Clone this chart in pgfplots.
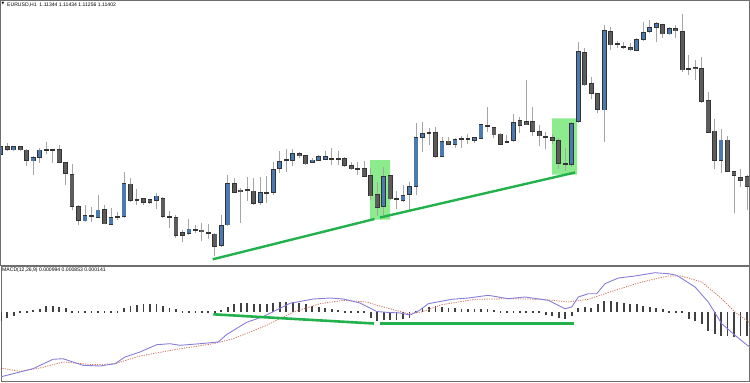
\documentclass[border=0pt]{standalone}
\usepackage{pgfplots}
\pgfplotsset{compat=1.18}
\usepackage{pgfplotstable}
\usepackage{fontspec}
\setmainfont{Liberation Sans}
\newfontfamily\symfont{DejaVu Sans}
\definecolor{bullfill}{RGB}{74,122,176}
\definecolor{bearfill}{RGB}{92,92,92}
\definecolor{outl}{RGB}{52,52,52}
\definecolor{wick}{RGB}{165,165,165}
\definecolor{tlgreen}{RGB}{34,177,76}
\definecolor{boxgreen}{RGB}{140,235,140}
\definecolor{macdline}{RGB}{135,125,215}
\definecolor{sigline}{RGB}{205,120,100}
\definecolor{histc}{RGB}{65,65,65}
\definecolor{frame}{RGB}{110,110,110}

% candles: pixel y values (smaller = higher price)
\pgfplotstableread{
i o h l c
0 154.3 145 156 146.7
2 150 145.7 150.7 146.7
5 161 156.3 175 157.3
6 157.7 148.3 163.3 150
13 221 205 221.7 215.7
15 217 195 217.7 210
17 224.3 208.3 225 217.3
19 216.7 171.7 217.7 183.3
24 200 192.7 209 196
29 233.3 219.3 235 229
34 245.7 215 246.7 225.7
35 225 175 226 183.3
40 202.7 176.7 205 192.7
42 192.7 161.7 195 169.3
43 168.3 150.7 172.7 161.7
45 160.7 149.3 166 153.3
48 162.7 158.3 163.3 160
49 160 155 160.7 156.7
50 159.3 150.7 160 156.7
59 206.7 166.7 215 176.7
62 200.3 185 201.7 195.7
63 194.3 181.7 210 186.7
64 186.7 123.3 195 137.7
65 137.7 121.7 151.7 134
68 156 136.7 156.7 141.7
70 144.3 138.3 148.3 139.3
73 140.7 136.7 143.3 137.7
74 138.3 124.3 139 125
79 140.7 114 141.7 122.7
88 164 121.7 166.7 123.3
89 121.7 41.7 123.3 51.7
93 110 25 141.7 31
98 50.7 38.3 51.3 39.3
99 39.3 21.7 40.7 32.3
100 31.7 20 33.3 27.3
101 27.3 21.7 42.3 24
103 34 26.7 35 28.3
111 160.7 129.3 173.3 140
}\bull

\pgfplotstableread{
i o h l c
1 146.3 143 151 149.7
3 146.3 145.7 151 150
4 150 149.3 166 160.7
7 150 142.3 154.3 150.3
8 150 149.3 163.3 150
9 149.3 145 163 162.7
10 162.7 161.7 185 173
11 174.3 164.3 210 206.7
12 207 205 225 220.7
14 215.7 206.7 221.7 216
16 209.3 205 224.3 224
18 216.7 211.7 220 216.7
20 184 178.3 201.7 200.7
21 200 189.3 205 200
22 198.3 198 205 202.3
23 200 199 203.5 202.3
25 198.3 196.7 218.3 216.7
26 216.7 211 228.3 216.7
27 217.3 215 238.3 235
28 232.3 230 241.7 235
30 230 225 232.7 230
31 230 222.7 240.7 231.7
32 233.3 224 239.3 233.3
33 234 233.3 256 246.7
36 183.3 178.3 192.7 192.3
37 190 188.3 223.3 191
38 190 177.3 201 190.5
39 191 178.3 205 203.3
41 192.7 176 202.7 192.7
44 160 149.3 171.7 160
46 154 151.7 158.3 156
47 156 155 165 164
51 158.7 148.3 165 158.7
52 159.3 150.7 165 159.3
53 158.3 157.3 166.7 165.7
54 166 161.7 170 169
55 169.3 161.7 175 169.3
56 168.3 160.7 176.7 176
57 176 168.3 200 196
58 194.3 182.3 216 207.7
60 175.7 175 200 199
61 199.3 191 209 199.3
66 132.7 128.3 145 132.7
67 132.7 126.7 157.7 156.7
69 141 136.7 145 144.3
71 139.3 136 148.3 139.3
72 139 134.3 144.3 139
75 126 106.7 131.7 126
76 127.7 126.7 137.7 135
77 134 133.3 145 144
78 141.7 135 143.3 141.7
80 121 117.3 133.3 125
81 121.7 80 125 125
82 121.7 106.7 136 131.7
83 131.7 125 146 136
84 136.7 131.7 149.3 136.7
85 137.3 134 144 140.7
86 140.7 138.3 169.3 163.3
87 164 148.3 170.7 164
90 52.3 48.3 86 85
91 83.3 76.7 99.3 93.3
92 93.3 92.7 112.7 109.3
94 31.7 27.3 50 45
95 44.3 41 48 44.3
96 46.7 41.7 49.3 46.7
97 47.7 43.3 50.7 50
102 24.3 24 38.3 34
104 29 25 38.3 31
105 32 14 71.7 70
106 69.3 55 75 69.3
107 67.3 60 80 68.7
108 68.3 57.3 102.7 101.7
109 100.7 91.7 132.7 132.3
110 131 119.3 169.3 160.7
112 140 136 171.7 171
113 171.7 171 212.7 175.7
114 177.3 169.3 186.7 180
115 176.7 175 210 186.7
}\bear

% MACD histogram: pixel y of bar end, zero line at 312
\pgfplotstableread{
i v
0 321
1 318.3
2 316
3 312
4 312
5 310.3
6 309.3
7 306
8 306
9 306.7
10 307.7
11 312
12 312
13 312
14 312
15 312
16 312
17 312
18 312
19 307.7
20 306
21 305
22 304.3
23 303.7
24 304.3
25 306
26 307.7
27 309.3
28 312
29 312
30 312
31 312
32 312
33 312
34 310.3
35 306.7
36 304
37 303.3
38 303.3
39 304.3
40 304.3
41 304.3
42 303.3
43 302.3
44 301.7
45 301.7
46 303.3
47 304.3
48 305.7
49 306.7
50 308.3
51 309
52 310
53 312
54 312
55 312
56 312
57 318.3
58 320.7
59 320
60 320
61 320
62 319
63 318.3
64 312
65 307.7
66 307
67 306
68 307
69 307.7
70 308.3
71 309.3
72 309.3
73 309.3
74 309.3
75 309.3
76 310.3
77 312
78 312
79 312
80 312
81 312
82 312
83 312
84 315
85 316
86 317.7
87 319.3
88 316
89 307.7
90 307
91 307.7
92 304.3
93 301
94 301
95 301.7
96 302.7
97 303.7
98 304.3
99 306
100 307
101 307.7
102 309.3
103 312
104 312
105 312
106 319.3
107 321
108 324.3
109 331
110 334.3
111 336
112 336
113 337
114 336
115 336
}\hist

\pgfplotstableread{
x y
0 377
33 368.7
53 359.3
63 358.7
83 365.3
100 366
115 363.7
125 357
140 352
156.7 344.7
170 343.7
180 345.3
200 343.7
218.3 342
226.7 334.5
246.7 322.3
263.3 316.5
276.7 310
290 303.3
313.3 299
330 298
343.3 299
360 303
376.7 311.5
386.7 312.3
400 313
410 315
420 310
428.3 303.7
451.7 299.3
468.3 298
488.3 295.3
508.3 298.7
525 297
548.3 300.3
565 308.7
571.7 307
578.3 297
588.3 293.7
596.7 293.7
605 283.7
618.3 278
635 276
655 272.7
668.3 273.7
676.7 275.3
695 287
708.3 302
721.7 323.7
735 335.3
747.3 345.3
750 347
}\macd

\pgfplotstableread{
x y
0 368
20 371.3
40 368
63.3 362
93.3 364.7
115 363.7
140 356
176.7 349.3
213.3 343.7
233.3 338.7
266.7 325.3
293.3 312
320 303.7
343.3 300.3
366.7 302
375 304.7
408.3 313.7
421.7 312
441.7 304.7
475 299.3
508.3 298.7
541.7 299.3
568.3 302
588.3 299.3
615 290.3
641.7 282
668.3 276
681.7 276
701.7 282
721.7 298.7
735 312
750 323
}\signal

\pgfplotsset{
  panel/.style={scale only axis, anchor=south west, xmin=1, xmax=749,
    y dir=reverse, ticks=none, axis line style={draw=frame, line width=1pt}},
  wickplot/.style={draw=none, mark=none, forget plot,
    error bars/.cd, y dir=both, y explicit, error mark=none,
    error bar style={draw=wick, line width=1pt}},
  bodyout/.style={draw=none, mark=none, forget plot,
    error bars/.cd, y dir=both, y explicit, error mark=none,
    error bar style={draw=outl, line width=4.8pt}},
  bodyin/.style={draw=none, mark=none, forget plot,
    error bars/.cd, y dir=both, y explicit, error mark=none,
    error bar style={draw=#1, line width=3.3pt}},
}

\begin{document}
\begin{tikzpicture}
\path[use as bounding box] (0pt,0pt) rectangle (750pt,383pt);
\begin{axis}[panel, at={(1pt,118pt)}, width=748pt, height=264pt, ymin=1, ymax=265]
  % highlight boxes
  \addplot[fill=boxgreen, draw=none, forget plot] coordinates {(370,160) (390,160) (390,219.5) (370,219.5) (370,160)};
  \addplot[fill=boxgreen, draw=none, forget plot] coordinates {(552,118.3) (577,118.3) (577,174.5) (552,174.5) (552,118.3)};
  % wicks
  \addplot[wickplot] table[x expr=0.7+6.49*\thisrow{i}, y expr=(\thisrow{h}+\thisrow{l})/2, y error expr=(\thisrow{l}-\thisrow{h})/2] {\bull};
  \addplot[wickplot] table[x expr=0.7+6.49*\thisrow{i}, y expr=(\thisrow{h}+\thisrow{l})/2, y error expr=(\thisrow{l}-\thisrow{h})/2] {\bear};
  % bodies
  \addplot[bodyout] table[x expr=0.7+6.49*\thisrow{i}, y expr=(\thisrow{o}+\thisrow{c})/2, y error expr={max(abs(\thisrow{o}-\thisrow{c})/2,0.5)+0.5}] {\bull};
  \addplot[bodyout] table[x expr=0.7+6.49*\thisrow{i}, y expr=(\thisrow{o}+\thisrow{c})/2, y error expr={max(abs(\thisrow{o}-\thisrow{c})/2,0.5)+0.5}] {\bear};
  \addplot[bodyin=bullfill] table[x expr=0.7+6.49*\thisrow{i}, y expr=(\thisrow{o}+\thisrow{c})/2, y error expr={max(abs(\thisrow{o}-\thisrow{c})/2-0.4,0)}] {\bull};
  \addplot[bodyin=bearfill] table[x expr=0.7+6.49*\thisrow{i}, y expr=(\thisrow{o}+\thisrow{c})/2, y error expr={max(abs(\thisrow{o}-\thisrow{c})/2-0.4,0)}] {\bear};
  % trend lines
  \addplot[tlgreen, line width=2.4pt, forget plot] coordinates {(212.7,259.3) (374.5,219)};
  \addplot[tlgreen, line width=2.4pt, forget plot] coordinates {(380,217.5) (575,172.5)};
\end{axis}
\begin{axis}[panel, at={(1pt,2pt)}, width=748pt, height=115pt, ymin=266, ymax=381]
  \addplot[draw=none, mark=none, forget plot, error bars/.cd, y dir=both, y explicit, error mark=none,
    error bar style={draw=histc, line width=1.8pt}]
    table[x expr=0.7+6.49*\thisrow{i}, y expr=(\thisrow{v}+312)/2, y error expr={max(abs(\thisrow{v}-312)/2,0.9)}] {\hist};
  \addplot[sigline, line width=0.8pt, dash pattern=on 1.2pt off 1.2pt, forget plot] table[x=x, y=y] {\signal};
  \addplot[macdline, line width=0.9pt, forget plot] table[x=x, y=y] {\macd};
  \addplot[tlgreen, line width=2.6pt, forget plot] coordinates {(213.3,314.3) (374,323.5)};
  \addplot[tlgreen, line width=2.6pt, forget plot] coordinates {(380,323.3) (574,323.3)};
\end{axis}
\node[font=\symfont\fontsize{3.5}{4}\selectfont, inner sep=0pt] at (3pt,379pt) {▼};
\node[anchor=west, font=\fontsize{5.1}{6}\selectfont, inner sep=0pt] at (7pt,378pt) {EURUSD,H1\ \ 1.11344 1.11434 1.11256 1.11402};
\node[anchor=west, font=\fontsize{5.1}{6}\selectfont, inner sep=0pt] at (2pt,112.7pt) {MACD(12,26,9) 0.000994 0.000853 0.000141};
\end{tikzpicture}
\end{document}
